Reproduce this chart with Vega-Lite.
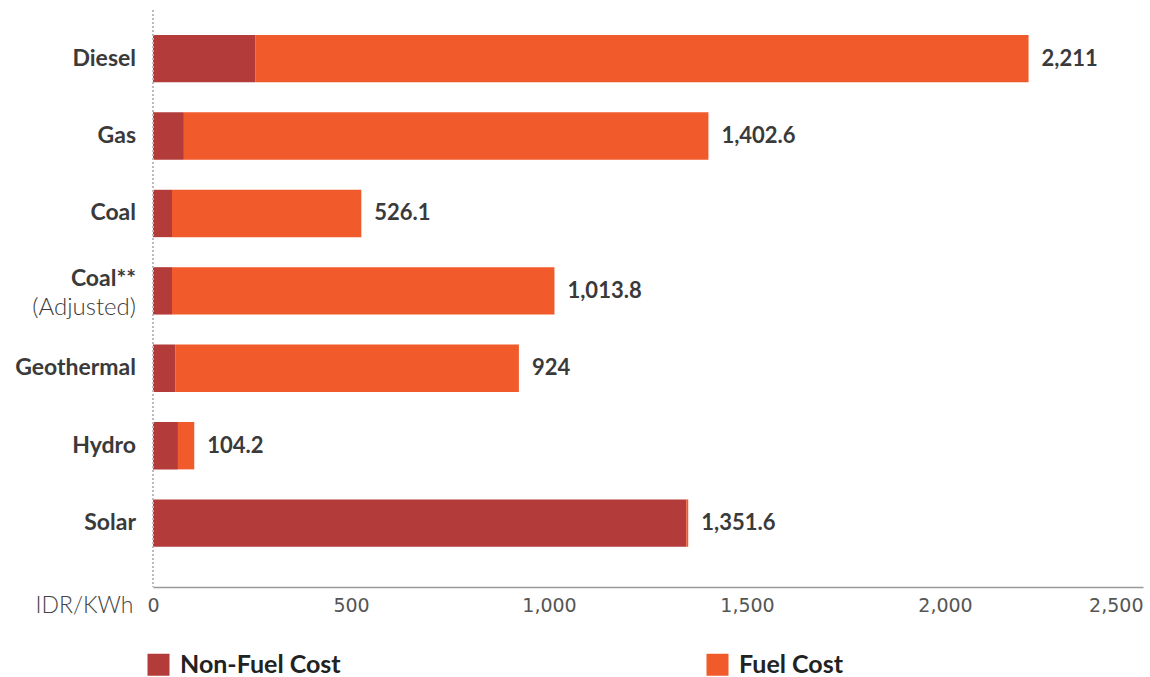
{
  "$schema": "https://vega.github.io/schema/vega-lite/v6.json",
  "width": 990,
  "height": 577,
  "autosize": {"type": "none"},
  "padding": {"left": 153, "top": 10, "right": 7, "bottom": 90},
  "background": "white",
  "config": {
    "view": {"stroke": null},
    "style": {"guide-label": {"font": "DejaVu Sans", "fontSize": 19, "fill": "#555555"}},
    "axisX": {"labelFont": "DejaVu Sans", "labelFontSize": 19, "labelColor": "#555555"}
  },
  "datasets": {
    "segments": [
      {"source": "Diesel", "type": "Non-Fuel Cost", "value": 258},
      {"source": "Diesel", "type": "Fuel Cost", "value": 1953},
      {"source": "Gas", "type": "Non-Fuel Cost", "value": 78},
      {"source": "Gas", "type": "Fuel Cost", "value": 1324.6},
      {"source": "Coal", "type": "Non-Fuel Cost", "value": 48},
      {"source": "Coal", "type": "Fuel Cost", "value": 478.1},
      {"source": "Coal**", "type": "Non-Fuel Cost", "value": 48},
      {"source": "Coal**", "type": "Fuel Cost", "value": 965.8},
      {"source": "Geothermal", "type": "Non-Fuel Cost", "value": 56},
      {"source": "Geothermal", "type": "Fuel Cost", "value": 868},
      {"source": "Hydro", "type": "Non-Fuel Cost", "value": 63},
      {"source": "Hydro", "type": "Fuel Cost", "value": 41.2},
      {"source": "Solar", "type": "Non-Fuel Cost", "value": 1346.6},
      {"source": "Solar", "type": "Fuel Cost", "value": 5}
    ],
    "totals": [
      {"source": "Diesel", "total": 2211, "sub": ""},
      {"source": "Gas", "total": 1402.6, "sub": ""},
      {"source": "Coal", "total": 526.1, "sub": ""},
      {"source": "Coal**", "total": 1013.8, "sub": "(Adjusted)"},
      {"source": "Geothermal", "total": 924, "sub": ""},
      {"source": "Hydro", "total": 104.2, "sub": ""},
      {"source": "Solar", "total": 1351.6, "sub": ""}
    ]
  },
  "encoding": {
    "y": {
      "field": "source",
      "type": "nominal",
      "sort": ["Diesel", "Gas", "Coal", "Coal**", "Geothermal", "Hydro", "Solar"],
      "scale": {
        "domain": ["Diesel", "Gas", "Coal", "Coal**", "Geothermal", "Hydro", "Solar"],
        "paddingInner": 0.388,
        "paddingOuter": 0.421,
        "align": 0.383
      },
      "axis": null
    }
  },
  "layer": [
    {
      "data": {"name": "segments"},
      "mark": {"type": "bar", "stroke": null},
      "encoding": {
        "x": {
          "field": "value",
          "type": "quantitative",
          "stack": "zero",
          "scale": {"domain": [0, 2500], "nice": false, "zero": true},
          "axis": {
            "values": [0, 500, 1000, 1500, 2000, 2500],
            "format": ",.0f",
            "grid": false,
            "ticks": false,
            "domainColor": "#9a9a9a",
            "domainWidth": 1.5,
            "labelFont": "DejaVu Sans",
            "labelFontSize": 19,
            "labelFontWeight": "normal",
            "labelColor": "#555555",
            "labelPadding": 9,
            "labelAlign": {"condition": {"test": "datum.value == 2500", "value": "right"}, "value": "center"},
            "title": "IDR/KWh",
            "titleFont": "Lato",
            "titleFontSize": 23,
            "titleFontWeight": 300,
            "titleColor": "#444444",
            "titleX": -20,
            "titleY": 7,
            "titleAlign": "right",
            "titleBaseline": "top",
            "titleAngle": 0
          }
        },
        "color": {
          "field": "type",
          "type": "nominal",
          "scale": {"domain": ["Non-Fuel Cost", "Fuel Cost"], "range": ["#b33b39", "#f15a2b"]},
          "legend": {
            "orient": "none",
            "legendX": -7,
            "legendY": 642,
            "direction": "horizontal",
            "title": null,
            "symbolType": "square",
            "symbolSize": 484,
            "symbolStrokeWidth": 0,
            "labelFont": "Lato",
            "labelFontSize": 25,
            "labelFontWeight": "bold",
            "labelColor": "#222222",
            "labelOffset": 9,
            "labelLimit": 400,
            "columnPadding": 364
          }
        },
        "order": {"field": "type", "sort": "descending"}
      }
    },
    {
      "data": {"name": "segments"},
      "mark": {"type": "rule", "strokeDash": [2, 2], "color": "#bbbbbb", "strokeWidth": 1},
      "encoding": {"x": {"datum": 0}, "y": null}
    },
    {
      "data": {"name": "totals"},
      "mark": {"type": "text", "align": "left", "baseline": "middle", "dx": 13, "fontSize": 22, "fontWeight": "bold", "color": "#3a3a3a", "font": "Lato"},
      "encoding": {
        "x": {"field": "total", "type": "quantitative"},
        "text": {"field": "total", "type": "quantitative", "format": ","}
      }
    },
    {
      "data": {"name": "totals"},
      "transform": [{"filter": "datum.source != 'Coal**'"}],
      "mark": {"type": "text", "align": "right", "baseline": "middle", "dx": -17, "fontSize": 23, "fontWeight": "bold", "color": "#3a3a3a", "font": "Lato"},
      "encoding": {
        "x": {"datum": 0},
        "text": {"field": "source"}
      }
    },
    {
      "data": {"name": "totals"},
      "transform": [{"filter": "datum.source == 'Coal**'"}],
      "mark": {"type": "text", "align": "right", "baseline": "middle", "dx": -17, "dy": -12, "fontSize": 23, "fontWeight": "bold", "color": "#3a3a3a", "font": "Lato"},
      "encoding": {
        "x": {"datum": 0},
        "text": {"field": "source"}
      }
    },
    {
      "data": {"name": "totals"},
      "transform": [{"filter": "datum.source == 'Coal**'"}],
      "mark": {"type": "text", "align": "right", "baseline": "middle", "dx": -17, "dy": 17, "fontSize": 24, "fontWeight": 300, "color": "#3a3a3a", "font": "Lato"},
      "encoding": {
        "x": {"datum": 0},
        "text": {"field": "sub"}
      }
    }
  ]
}
